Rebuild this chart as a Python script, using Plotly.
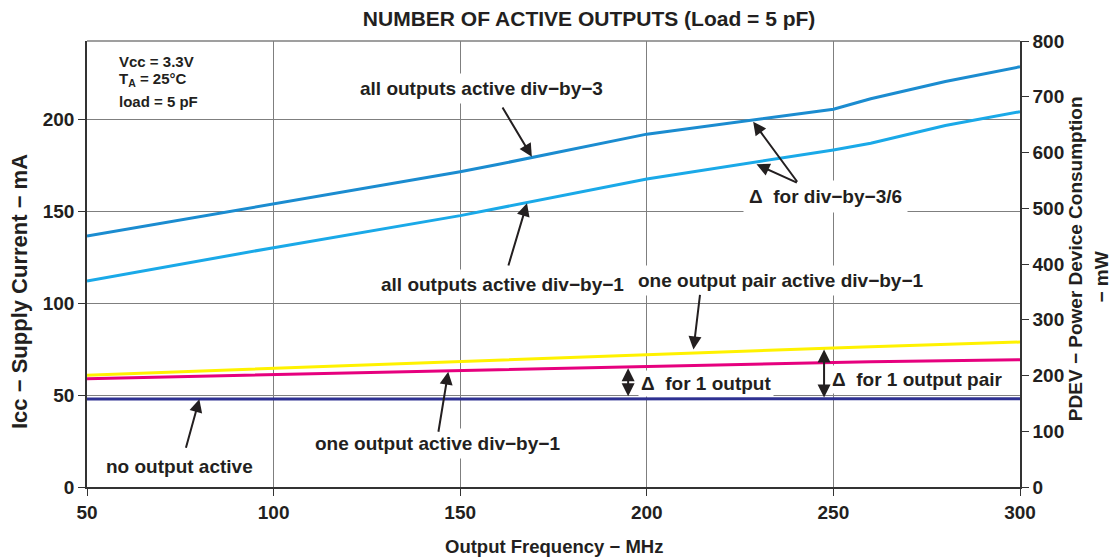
import plotly.graph_objects as go

freq_mhz = [50, 100, 150, 160, 200, 250, 260, 280, 300]
all_div3 = [136.4, 153.8, 171.4, 175.3, 191.8, 205.3, 211.0, 220.4, 228.4]
all_div1 = [112.0, 130.1, 147.5, 151.4, 167.4, 183.2, 186.8, 196.5, 204.0]
one_pair = [60.8, 64.6, 68.4, 69.0, 72.0, 75.6, 76.3, 77.6, 78.8]
one_out = [58.9, 61.2, 63.4, 63.8, 65.6, 67.7, 68.1, 68.7, 69.2]
no_out = [47.8, 47.9, 47.9, 47.9, 48.0, 48.0, 48.0, 48.0, 48.0]

left_ticks = [0, 50, 100, 150, 200]
right_ticks = [0, 100, 200, 300, 400, 500, 600, 700, 800]
x_ticks = [50, 100, 150, 200, 250, 300]
VCC = 3.3
PMAX = 800

FONT = "Liberation Sans, Arial, sans-serif"
TXT = "#231f20"
BOLD = lambda s: dict(family=FONT, size=s, color=TXT, weight="bold")

fig = go.Figure()
series = [
    (no_out, "#2e3192", "no output active"),
    (one_out, "#e6007e", "one output active div-by-1"),
    (one_pair, "#fff200", "one output pair active div-by-1"),
    (all_div1, "#1aa9e8", "all outputs active div-by-1"),
    (all_div3, "#1b8cd0", "all outputs active div-by-3"),
]
for vals, col, name in series:
    fig.add_trace(go.Scatter(x=freq_mhz, y=vals, mode="lines", name=name,
                             line=dict(color=col, width=3), showlegend=False))
# power axis (mW): same data converted with Vcc, drawn invisibly on the right axis
fig.add_trace(go.Scatter(x=freq_mhz, y=[v * VCC for v in no_out], yaxis="y2", mode="lines",
                         line=dict(width=0), opacity=0, showlegend=False, hoverinfo="skip"))

ann = []
def label(x, y, text, xanchor="center", size=19, bg=True, pad=4):
    ann.append(dict(x=x, y=y, xref="x", yref="y", text=text, showarrow=False,
                    xanchor=xanchor, yanchor="middle", font=BOLD(size),
                    bgcolor="white" if bg else "rgba(0,0,0,0)", borderpad=pad))

def arrow(tx, ty, hx, hy, both=False):
    ann.append(dict(x=hx, y=hy, ax=tx, ay=ty, xref="x", yref="y", axref="x", ayref="y",
                    text="", showarrow=True, arrowhead=2, arrowsize=1.3, arrowwidth=2,
                    arrowcolor=TXT, arrowside="end+start" if both else "end",
                    startarrowhead=2, startarrowsize=1.3))

def ptext(x, y, text, size, angle=0):
    ann.append(dict(x=x, y=y, xref="paper", yref="paper", text=text, showarrow=False,
                    xanchor="center", yanchor="middle", textangle=angle, font=BOLD(size)))

label(58.0, 231.3, "Vcc = 3.3V", xanchor="left", size=15, bg=False, pad=1)
label(58.0, 221.4, "T<sub>A</sub> = 25°C", xanchor="left", size=15, bg=False, pad=1)
label(58.0, 209.6, "load = 5 pF", xanchor="left", size=15, bg=False, pad=1)

label(155.6, 216.7, "all outputs active div−by−3")
arrow(161.1, 207.1, 169.2, 179.5)

label(248.0, 157.8, "Δ  for div−by−3/6", pad=5)
arrow(240.6, 165.1, 228.5, 198.5)
arrow(240.6, 165.1, 229.4, 175.4)

label(161.4, 110.3, "all outputs active div−by−1")
arrow(162.8, 119.6, 167.9, 154.3)

label(236.0, 112.5, "one output pair active div−by−1")
arrow(214.3, 105.3, 212.5, 74.8)

label(215.8, 56.5, "Δ  for 1 output", pad=2)
arrow(195.0, 48.5, 195.0, 64.5, both=True)

label(272.5, 58.2, "Δ  for 1 output pair", pad=3)
arrow(247.5, 47.9, 247.5, 74.8, both=True)

label(143.8, 23.7, "one output active div−by−1")
arrow(144.1, 29.2, 146.8, 62.7)

label(74.9, 11.0, "no output active", pad=2)
arrow(76.4, 20.5, 80.1, 47.7)

# axis titles (paper coordinates relative to plot area)
ptext(0.5, -0.1345, "Output Frequency − MHz", 18.5)
ptext(-0.0725, 0.438, "Icc − Supply Current − mA", 22, angle=-90)
ptext(1.059, 0.511, "PDEV − Power Device Consumption", 19, angle=-90)
ptext(1.0875, 0.471, "− mW", 19, angle=-90)

axis_common = dict(ticks="outside", ticklen=7, tickwidth=1, tickcolor="#333333",
                   showline=True, linecolor="#333333", linewidth=1.5, zeroline=False,
                   tickfont=BOLD(19), automargin=False)

fig.update_layout(
    width=1109, height=550,
    margin=dict(l=79, r=97, t=33, b=71, autoexpand=False),
    paper_bgcolor="white", plot_bgcolor="white",
    font=dict(family=FONT, color=TXT),
    title=dict(text="NUMBER OF ACTIVE OUTPUTS (Load = 5 pF)", xref="container", x=0.524,
               xanchor="center", yref="container", y=0.981, yanchor="middle", font=BOLD(21)),
    xaxis=dict(range=[50, 300], tickvals=x_ticks, showgrid=True, gridcolor="#7f7f7f",
               gridwidth=1, **axis_common),
    yaxis=dict(range=[0, PMAX / VCC], tickvals=left_ticks, showgrid=True, gridcolor="#7f7f7f",
               gridwidth=1, **axis_common),
    yaxis2=dict(range=[0, PMAX], tickvals=right_ticks, overlaying="y", side="right",
                showgrid=False, **axis_common),
    annotations=ann,
    shapes=[dict(type="line", xref="paper", yref="paper", x0=0, x1=1, y0=1, y1=1,
                 line=dict(color="#7f7f7f", width=1.5))],
)

fig.write_html("out.html")
